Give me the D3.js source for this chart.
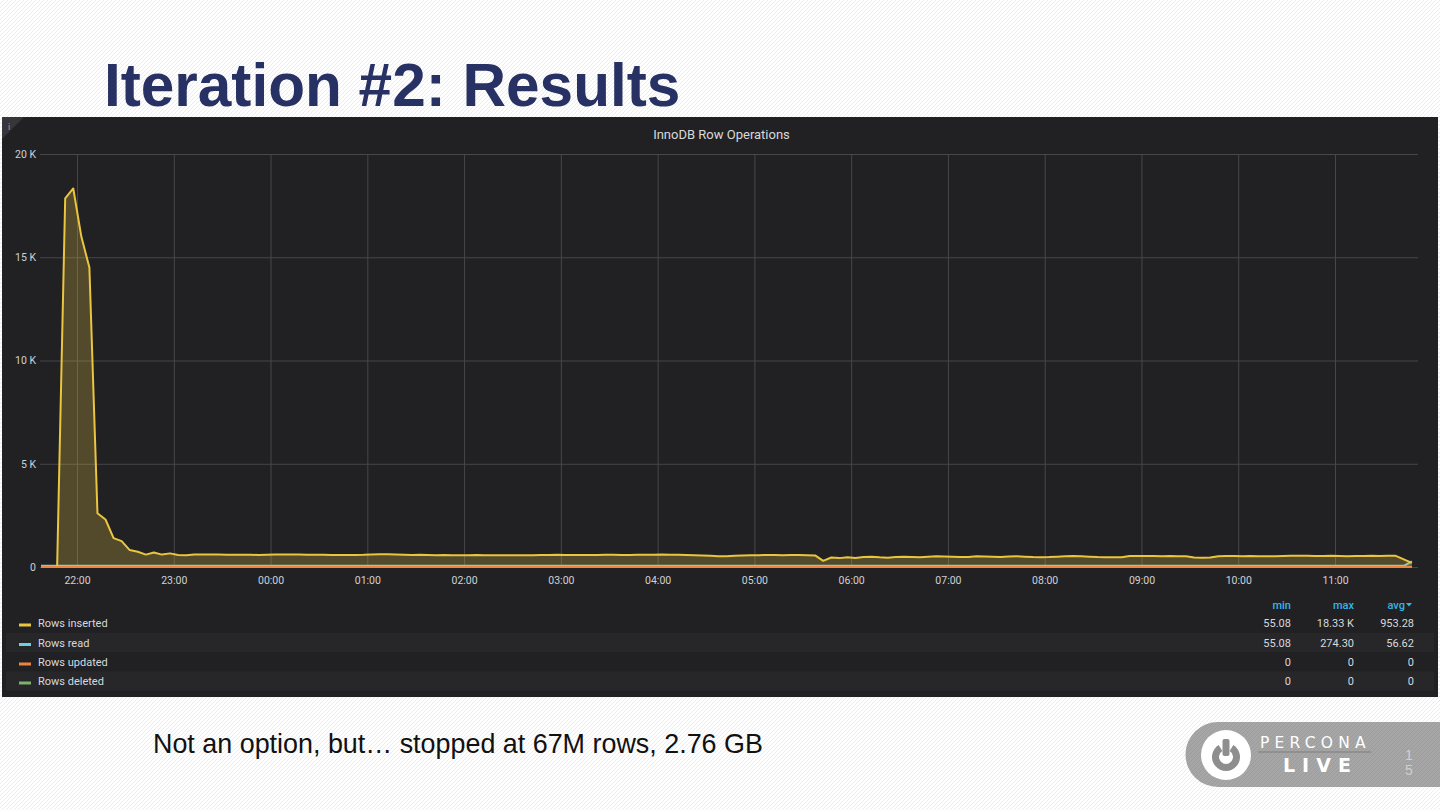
<!DOCTYPE html>
<html>
<head>
<meta charset="utf-8">
<script src="https://cdn.jsdelivr.net/npm/d3@7"></script>
<style>
  html, body { margin: 0; padding: 0; background: #fff; }
  svg { display: block; }
</style>
</head>
<body>
<svg id="slide" width="1440" height="810"></svg>
<script>
// ---------------- DATA ----------------
const slideTitle = "Iteration #2: Results";
const panelTitle = "InnoDB Row Operations";
const footnote = "Not an option, but\u2026 stopped at 67M rows, 2.76 GB";
const pageNumber = ["1", "5"];

// samples every 5 minutes starting 21:37:40
const startTime = new Date(2018, 3, 24, 21, 37, 40);
const stepMinutes = 5;

const seriesNames = ["Rows inserted", "Rows read", "Rows updated", "Rows deleted"];
const seriesColors = ["#eac53f", "#6ed0e0", "#ef843c", "#7eb26d"];

const rowsInserted = [
  0, 0, 0, 17850, 18330, 16000, 14500, 2600, 2300, 1400,
  1250, 820, 740, 600, 700, 600, 660, 580, 570, 600,
  610, 600, 600, 595, 590, 590, 590, 585, 590, 600,
  610, 605, 600, 595, 590, 590, 585, 585, 580, 585,
  590, 610, 620, 615, 600, 590, 585, 590, 580, 575,
  580, 575, 570, 575, 580, 570, 565, 570, 575, 570,
  565, 575, 580, 585, 590, 580, 585, 580, 580, 585,
  590, 590, 585, 585, 590, 590, 595, 600, 595, 590,
  580, 570, 560, 540, 520, 520, 540, 560, 570, 575,
  580, 580, 575, 580, 580, 575, 560, 300, 460, 430,
  470, 440, 480, 500, 470, 450, 480, 500, 490, 470,
  500, 520, 510, 500, 480, 490, 520, 510, 500, 490,
  510, 520, 500, 480, 470, 480, 500, 520, 530, 520,
  500, 480, 470, 475, 470, 530, 530, 535, 530, 525,
  530, 525, 520, 460, 450, 455, 520, 530, 530, 525,
  530, 525, 520, 525, 530, 540, 545, 540, 530, 535,
  540, 530, 525, 530, 535, 540, 535, 540, 540, 370, 200
];
const rowsRead = [
  55.1, 55.1, 55.1, 55.2, 55.3, 55.2, 55.1, 55.1, 55.1, 55.1,
  55.1, 55.1, 55.1, 55.1, 55.1, 55.1, 55.1, 55.1, 55.1, 55.1,
  55.1, 55.1, 55.1, 55.1, 55.1, 55.1, 55.1, 55.1, 55.1, 55.1,
  55.1, 55.1, 55.1, 55.1, 55.1, 55.1, 55.1, 55.1, 55.1, 55.1,
  55.1, 55.1, 55.1, 55.1, 55.1, 55.1, 55.1, 55.1, 55.1, 55.1,
  55.1, 55.1, 55.1, 55.1, 55.1, 55.1, 55.1, 55.1, 55.1, 55.1,
  55.1, 55.1, 55.1, 55.1, 55.1, 55.1, 55.1, 55.1, 55.1, 55.1,
  55.1, 55.1, 55.1, 55.1, 55.1, 55.1, 55.1, 55.1, 55.1, 55.1,
  55.1, 55.1, 55.1, 55.1, 55.1, 55.1, 55.1, 55.1, 55.1, 55.1,
  55.1, 55.1, 55.1, 55.1, 55.1, 55.1, 55.1, 55.1, 55.1, 55.1,
  55.1, 55.1, 55.1, 55.1, 55.1, 55.1, 55.1, 55.1, 55.1, 55.1,
  55.1, 55.1, 55.1, 55.1, 55.1, 55.1, 55.1, 55.1, 55.1, 55.1,
  55.1, 55.1, 55.1, 55.1, 55.1, 55.1, 55.1, 55.1, 55.1, 55.1,
  55.1, 55.1, 55.1, 55.1, 55.1, 55.1, 55.1, 55.1, 55.1, 55.1,
  55.1, 55.1, 55.1, 55.1, 55.1, 55.1, 55.1, 55.1, 55.1, 55.1,
  55.1, 55.1, 55.1, 55.1, 55.1, 55.1, 55.1, 55.1, 55.1, 55.1,
  55.1, 55.1, 55.1, 55.1, 55.1, 55.1, 55.1, 55.1, 55.1, 55.1, 274.3
];
const rowsUpdated = [
  0,0,0,0,0,0,0,0,0,0, 0,0,0,0,0,0,0,0,0,0, 0,0,0,0,0,0,0,0,0,0,
  0,0,0,0,0,0,0,0,0,0, 0,0,0,0,0,0,0,0,0,0, 0,0,0,0,0,0,0,0,0,0,
  0,0,0,0,0,0,0,0,0,0, 0,0,0,0,0,0,0,0,0,0, 0,0,0,0,0,0,0,0,0,0,
  0,0,0,0,0,0,0,0,0,0, 0,0,0,0,0,0,0,0,0,0, 0,0,0,0,0,0,0,0,0,0,
  0,0,0,0,0,0,0,0,0,0, 0,0,0,0,0,0,0,0,0,0, 0,0,0,0,0,0,0,0,0,0,
  0,0,0,0,0,0,0,0,0,0, 0,0,0,0,0,0,0,0,0,0, 0
];
const rowsDeleted = [
  0,0,0,0,0,0,0,0,0,0, 0,0,0,0,0,0,0,0,0,0, 0,0,0,0,0,0,0,0,0,0,
  0,0,0,0,0,0,0,0,0,0, 0,0,0,0,0,0,0,0,0,0, 0,0,0,0,0,0,0,0,0,0,
  0,0,0,0,0,0,0,0,0,0, 0,0,0,0,0,0,0,0,0,0, 0,0,0,0,0,0,0,0,0,0,
  0,0,0,0,0,0,0,0,0,0, 0,0,0,0,0,0,0,0,0,0, 0,0,0,0,0,0,0,0,0,0,
  0,0,0,0,0,0,0,0,0,0, 0,0,0,0,0,0,0,0,0,0, 0,0,0,0,0,0,0,0,0,0,
  0,0,0,0,0,0,0,0,0,0, 0,0,0,0,0,0,0,0,0,0, 0
];

const yTickValues = [0, 5000, 10000, 15000, 20000];
const yTickLabels = ["0", "5 K", "10 K", "15 K", "20 K"];

const legendHeaders = ["min", "max", "avg"];
const legendMin = ["55.08", "55.08", "0", "0"];
const legendMax = ["18.33 K", "274.30", "0", "0"];
const legendAvg = ["953.28", "56.62", "0", "0"];

// ---------------- LAYOUT ----------------
const svg = d3.select("#slide");
const defs = svg.append("defs");

// diagonal stripes of the slide background
const pat = defs.append("pattern").attr("id", "stripes")
  .attr("patternUnits", "userSpaceOnUse").attr("width", 4).attr("height", 4);
pat.append("rect").attr("width", 4).attr("height", 4).attr("fill", "#ffffff");
pat.append("path").attr("d", "M-1,1 l2,-2 M0,4 l4,-4 M3,5 l2,-2")
  .attr("stroke", "#ececec").attr("stroke-width", 1);

const pat2 = defs.append("pattern").attr("id", "stripes2")
  .attr("patternUnits", "userSpaceOnUse").attr("width", 4).attr("height", 4);
pat2.append("rect").attr("width", 4).attr("height", 4).attr("fill", "#a6a6a6");
pat2.append("path").attr("d", "M-1,1 l2,-2 M0,4 l4,-4 M3,5 l2,-2")
  .attr("stroke", "#9c9c9c").attr("stroke-width", 1);

svg.append("rect").attr("width", 1440).attr("height", 810).attr("fill", "url(#stripes)");

// slide title
svg.append("text").attr("x", 104).attr("y", 106)
  .attr("font-family", "Liberation Sans, Arial, sans-serif")
  .attr("font-weight", "bold").attr("font-size", 60.3)
  .attr("fill", "#283163").text(slideTitle);

// panel
const panel = { x: 2, y: 117, w: 1436, h: 580 };
svg.append("rect").attr("x", panel.x).attr("y", panel.y)
  .attr("width", panel.w).attr("height", panel.h).attr("fill", "#212124");

// info corner
svg.append("path")
  .attr("d", `M${panel.x},${panel.y} l22,0 l-22,22 z`).attr("fill", "#35353a");
svg.append("text").attr("x", 9).attr("y", 130)
  .attr("font-family", "Roboto, sans-serif").attr("font-size", 9)
  .attr("fill", "#9fa0a4").attr("text-anchor", "middle").text("i");

svg.append("text").attr("x", 721.5).attr("y", 138.5)
  .attr("font-family", "Roboto, sans-serif").attr("font-weight", 400)
  .attr("font-size", 13).attr("fill", "#d8d9da")
  .attr("text-anchor", "middle").text(panelTitle);

// scales
const n = rowsInserted.length;
const times = d3.range(n).map(i => new Date(+startTime + i * stepMinutes * 60000));
const plot = { left: 40, right: 1418, top: 154, bottom: 567 };
const x = d3.scaleTime().domain([times[0], times[n - 1]]).range([41, 41 + (n - 1) * 8.064]);
const y = d3.scaleLinear().domain([0, 20000]).range([plot.bottom, plot.top]);

// grid + axes
const gy = svg.append("g").attr("transform", `translate(${plot.left},0)`)
  .call(d3.axisLeft(y).tickValues(yTickValues)
    .tickFormat((d, i) => yTickLabels[i])
    .tickSize(-(plot.right - plot.left)).tickPadding(4));
gy.select(".domain").remove();
gy.selectAll(".tick line").attr("stroke", "#47474b").attr("stroke-width", 1);
gy.selectAll(".tick text").attr("fill", "#d0d1d3")
  .attr("font-family", "Roboto, sans-serif").attr("font-size", 10.5);

const gx = svg.append("g").attr("transform", `translate(0,${plot.bottom})`)
  .call(d3.axisBottom(x).ticks(d3.timeHour.every(1))
    .tickFormat(d3.timeFormat("%H:%M"))
    .tickSize(-(plot.bottom - plot.top)).tickPadding(10));
gx.select(".domain").remove();
gx.selectAll(".tick line").attr("stroke", "#47474b").attr("stroke-width", 1);
gx.selectAll(".tick text").attr("fill", "#d0d1d3")
  .attr("font-family", "Roboto, sans-serif").attr("font-size", 10.5);

// series
const mk = arr => arr.map((v, i) => ({ t: times[i], v }));
const area = d3.area().x(d => x(d.t)).y0(y(0)).y1(d => y(d.v));
const line = d3.line().x(d => x(d.t)).y(d => y(d.v));

const gS = svg.append("g");
function drawSeries(arr, color) {
  const data = mk(arr);
  gS.append("path").datum(data).attr("d", area)
    .attr("fill", color).attr("fill-opacity", 0.25);
  gS.append("path").datum(data).attr("d", line)
    .attr("fill", "none").attr("stroke", color).attr("stroke-width", 2)
    .attr("stroke-linejoin", "round");
}
drawSeries(rowsDeleted, seriesColors[3]);
drawSeries(rowsRead, seriesColors[1]);
drawSeries(rowsInserted, seriesColors[0]);
drawSeries(rowsUpdated, seriesColors[2]);

// legend
const rowY = [623, 642.5, 662, 681];
const rowH = 19.4;
const gL = svg.append("g").attr("font-family", "Roboto, sans-serif");
[1, 3].forEach(i => {
  gL.append("rect").attr("x", panel.x + 4).attr("y", rowY[i] - rowH / 2)
    .attr("width", panel.w - 8).attr("height", rowH).attr("fill", "#27272a");
});
const colX = [1291, 1354, 1414];
legendHeaders.forEach((h, j) => {
  gL.append("text").attr("x", colX[j] - (j === 2 ? 9 : 0)).attr("y", 608.5)
    .attr("text-anchor", "end").attr("font-size", 11).attr("font-weight", 500)
    .attr("fill", "#33b5e5").text(h);
});
gL.append("path").attr("d", "M1406,603 l6,0 l-3,3.5 z").attr("fill", "#33b5e5");

seriesNames.forEach((name, i) => {
  gL.append("rect").attr("x", 19).attr("y", rowY[i] + 0.5).attr("width", 12).attr("height", 3)
    .attr("fill", seriesColors[i]);
  gL.append("text").attr("x", 38).attr("y", rowY[i] + 4)
    .attr("font-size", 11).attr("fill", "#d8d9da").text(name);
  [legendMin[i], legendMax[i], legendAvg[i]].forEach((v, j) => {
    gL.append("text").attr("x", colX[j]).attr("y", rowY[i] + 4)
      .attr("text-anchor", "end").attr("font-size", 11)
      .attr("fill", "#d8d9da").text(v);
  });
});

// footnote
svg.append("text").attr("x", 153).attr("y", 753)
  .attr("font-family", "Liberation Sans, Arial, sans-serif")
  .attr("font-size", 26.9).attr("fill", "#111").text(footnote);

// Percona Live badge
const gB = svg.append("g");
gB.append("path").attr("d", "M1440,722 L1218,722 A32.5,32.5 0 0 0 1218,787 L1440,787 Z")
  .attr("fill", "url(#stripes2)");
gB.append("circle").attr("cx", 1226).attr("cy", 755).attr("r", 25).attr("fill", "#ffffff");
gB.append("path").attr("d", d3.arc()({ innerRadius: 7, outerRadius: 14, startAngle: 0.55, endAngle: 2 * Math.PI - 0.55 }))
  .attr("transform", "translate(1226,757)").attr("fill", "#8e8e8e");
gB.append("rect").attr("x", 1222.5).attr("y", 739).attr("width", 7).attr("height", 17).attr("rx", 2).attr("fill", "#8e8e8e");
gB.append("text").attr("x", 1260).attr("y", 748)
  .attr("font-family", "DejaVu Sans, sans-serif").attr("font-size", 15.5)
  .attr("letter-spacing", 5.2).attr("fill", "#ffffff").text("PERCONA");
gB.append("line").attr("x1", 1258).attr("x2", 1371).attr("y1", 752).attr("y2", 752)
  .attr("stroke", "#7d7d7d").attr("stroke-width", 1);
gB.append("text").attr("x", 1283).attr("y", 772)
  .attr("font-family", "DejaVu Sans, sans-serif").attr("font-weight", "bold").attr("font-size", 19)
  .attr("letter-spacing", 7).attr("fill", "#ffffff").text("LIVE");
pageNumber.forEach((p, i) => {
  gB.append("text").attr("x", 1409).attr("y", 760 + i * 15)
    .attr("text-anchor", "middle").attr("font-family", "Liberation Sans, Arial, sans-serif")
    .attr("font-size", 14).attr("fill", "#cfcfcf").text(p);
});
</script>
</body>
</html>
